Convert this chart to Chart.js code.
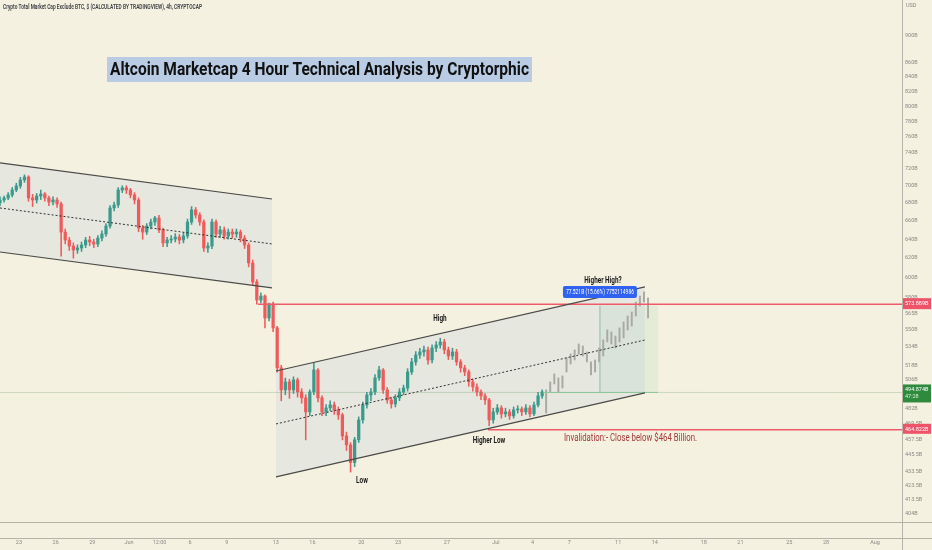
<!DOCTYPE html>
<html>
<head>
<meta charset="utf-8">
<script src="https://cdn.jsdelivr.net/npm/chart.js@4.4.1/dist/chart.umd.min.js"></script>
<style>
  html, body { margin: 0; padding: 0; background: #f5f1e0; }
  canvas { display: block; }
</style>
</head>
<body>
<canvas id="ctx" width="932" height="550"></canvas>
<script>
// day numbers: May d -> d, Jun d -> 31 + d, Jul d -> 61 + d, Aug 1 -> 93
const xTicks = [23, 26, 29, 32, 34.5, 37, 40, 44, 47, 51, 54, 58, 62, 65, 68, 72, 75, 79, 82, 86, 89, 93];
const xTickLabels = ["23", "26", "29", "Jun", "12:00", "6", "9", "13", "16", "20", "23", "27", "Jul", "4", "7", "11", "14", "18", "21", "25", "28", "Aug"];

const yTicks = [900, 860, 840, 820, 800, 780, 760, 740, 720, 700, 680, 660, 640, 620, 600, 580, 565, 550, 534, 518, 506, 482, 469.5, 457.5, 445.5, 433.5, 423.5, 413.5, 404];
const yTickLabels = ["900B", "860B", "840B", "820B", "800B", "780B", "760B", "740B", "720B", "700B", "680B", "660B", "640B", "620B", "600B", "580B", "565B", "550B", "534B", "518B", "506B", "482B", "469.5B", "457.5B", "445.5B", "433.5B", "423.5B", "413.5B", "404B"];

// 8h candles (billions USD), open = previous close
const candleStart = 21.45;
const candleStep = 1 / 3;
const firstOpen = 680.0;
const closes = [
  683.5, 685.8, 689.3, 695.1, 699.8, 706.8, 710.4, 685.8, 683.5, 688.1,
  690.4, 685.8, 681.2, 683.5, 679.0, 647.7, 639.1, 632.7, 628.5, 630.6,
  633.8, 639.1, 637.0, 634.8, 641.2, 645.6, 654.3, 674.4, 677.8, 695.1,
  697.5, 695.1, 689.3, 683.5, 652.1, 647.7, 654.3, 658.7, 663.2, 650.0, 635.9,
  639.1, 640.2, 642.3, 639.1, 643.4, 658.7, 672.2, 666.5, 658.7, 630.6,
  632.7, 658.7, 645.6, 650.0, 643.4, 647.7, 645.6, 647.7, 641.2, 633.8,
  615.0, 595.7, 577.9, 581.8, 560.7, 574.1, 551.5, 515.7, 497.0, 503.7,
  497.0, 505.4, 495.3, 490.4, 479.0, 495.3, 513.9, 490.4, 479.0, 482.2,
  484.6, 480.6, 476.6, 460.1, 453.2, 440.0, 457.1, 472.6, 484.6, 492.8,
  495.3, 507.1, 513.9, 497.0, 488.7, 485.4, 490.4, 495.3, 498.6, 512.2,
  520.9, 527.0, 529.7, 531.5, 522.6, 533.2, 535.9, 538.6, 531.5, 526.1,
  529.7, 520.9, 515.7, 512.2, 503.7, 499.5, 495.3, 492.0, 488.7, 472.6,
  479.0, 482.2, 477.4, 479.0, 475.8, 480.6, 481.4, 479.0, 482.2, 477.4, 484.6, 492.0, 495.3
];
const highs = [
  687, 688, 692, 698, 703, 710, 713, 712, 690, 691,
  695, 692, 688, 687, 686, 681, 651, 642, 636, 634,
  637, 642, 643, 640, 644, 649, 657, 677, 681, 698,
  700, 700, 697, 692, 686, 655, 657, 662, 665, 666, 652,
  642, 644, 646, 645, 647, 662, 676, 675, 669, 661,
  636, 662, 661, 654, 653, 651, 651, 651, 650, 644,
  636, 618, 598, 585, 583, 574.9, 576, 553, 518, 507,
  506, 508, 507, 498, 493, 497, 520, 515, 492, 485,
  488, 487, 483, 478, 463, 455, 459, 475, 487, 495,
  498, 510, 517, 515, 499, 491, 493, 498, 501, 515,
  524, 530, 533, 535, 534, 536, 539, 542, 541, 534,
  533, 532, 523, 518, 514, 506, 502, 497, 494, 490,
  482, 485, 484, 482, 481, 483, 484, 483, 485, 484, 487, 495, 497
];
const lows = [
  677, 681, 684, 687, 693, 697, 704, 682, 676, 680,
  684, 682, 677, 678, 675, 622, 635, 628, 620, 625,
  627, 631, 633, 631, 632, 638, 643, 652, 671, 675,
  692, 691, 686, 679, 648, 640, 645, 651, 655, 647, 632,
  632, 636, 637, 635, 636, 641, 656, 663, 655, 627,
  626, 630, 642, 642, 640, 640, 641, 642, 637, 630,
  611, 592, 574, 575, 551.5, 558, 548, 512, 488, 493,
  490, 494, 491, 486, 457, 476, 493, 487, 476, 476,
  480, 477, 473, 457, 449, 433, 437, 455, 470, 482,
  488, 493, 505, 494, 486, 482, 483, 488, 493, 496,
  510, 518, 524, 526, 519, 520, 530, 533, 528, 523,
  523, 518, 512, 509, 500, 496, 492, 489, 485, 468,
  470, 477, 474, 475, 473, 474, 478, 476, 477, 475, 476, 483, 490
];

// projected path (grey bars) after the last real candle
const projStart = 66.11;
const projHigh = [497.0, 503.7, 510.5, 507.1, 508.8, 524.4, 527.9, 531.5, 536.8, 535.0, 529.7, 520.9, 522.6, 533.2, 540.5, 549.6, 547.7, 544.1, 551.5, 557.0, 562.6, 566.4, 575.9, 581.8, 585.8, 579.9];
const projLow = [478.2, 495.3, 502.0, 495.3, 498.6, 512.2, 519.1, 522.6, 527.9, 526.1, 520.9, 509.7, 512.2, 520.9, 526.1, 538.6, 536.8, 533.2, 538.6, 542.3, 549.6, 553.3, 562.6, 572.2, 576.0, 560.7];

// channels
const downDays = [21.45, 43.69];
const downTop = [727.3, 684.6];
const downMid = [674.4, 634.9];
const downBot = [626.4, 589.7];
const upDays = [44.02, 74.19];
const upTop = [513.0, 590.7];
const upMid = [469.4, 540.4];
const upBot = [429.5, 494.5];

// levels
const resistance = 573.889;
const resistanceFrom = 42.55;
const invalidation = 464.822;
const invalidationFrom = 61.35;
const lastPrice = 494.874;
const measureTop = 572.395;
const measureDays = [65.85, 70.51, 75.25];

const notes = [
  { text: "High", day: 57.43, value: 559.8 },
  { text: "Low", day: 51.05, value: 426.6 },
  { text: "Higher Low", day: 61.44, value: 456.2 },
  { text: "Higher High?", day: 70.76, value: 596.6 }
];

const UP = "#3b9a8c";
const DOWN = "#ef5a5a";
const BG = "#f5f1e0";

const opens = closes.map((c, i) => (i === 0 ? firstOpen : closes[i - 1]));
const dayOf = (i) => candleStart + i * candleStep;
const seg = (xs, ys) => xs.map((x, i) => ({ x: x, y: ys[i] }));

function line(data, color, width, extra) {
  return Object.assign({
    type: "line", data: data, borderColor: color, borderWidth: width,
    pointRadius: 0, fill: false, tension: 0, order: 1
  }, extra || {});
}

function squeeze(ctx, text, x, y, font, color, opt) {
  ctx.save();
  ctx.font = font;
  ctx.fillStyle = color;
  ctx.textBaseline = "middle";
  ctx.textAlign = opt.align || "left";
  const w = ctx.measureText(text).width;
  const sx = opt.width ? opt.width / w : (opt.sx || 1);
  ctx.translate(x, y);
  ctx.scale(sx, 1);
  ctx.fillText(text, 0, 0);
  ctx.restore();
}

const background = {
  id: "background",
  beforeDraw(chart) {
    const c = chart.ctx;
    c.save();
    c.fillStyle = BG;
    c.fillRect(0, 0, chart.width, chart.height);
    c.restore();
  }
};

const overlay = {
  id: "overlay",
  afterDraw(chart) {
    const c = chart.ctx;
    const a = chart.chartArea;
    const x = chart.scales.x;
    const y = chart.scales.y;

    // pane borders
    c.save();
    c.strokeStyle = "#b4b3a9";
    c.lineWidth = 1;
    c.beginPath();
    c.moveTo(0, a.bottom + 0.5); c.lineTo(chart.width, a.bottom + 0.5);
    c.moveTo(0, a.bottom + 16.5); c.lineTo(chart.width, a.bottom + 16.5);
    c.moveTo(a.right + 0.5, 0); c.lineTo(a.right + 0.5, chart.height);
    c.stroke();
    c.restore();

    // header & currency
    squeeze(c, "Crypto Total Market Cap Exclude BTC, $ (CALCULATED BY TRADINGVIEW), 4h, CRYPTOCAP",
      3, 7, "600 7px Roboto", "#3a3d45", { width: 199 });
    squeeze(c, "USD", a.right + 4, 6, "5.5px Roboto", "#8a8a86", {});

    // title
    c.fillStyle = "#b9cce4";
    c.fillRect(107, 57, 425, 25);
    squeeze(c, "Altcoin Marketcap 4 Hour Technical Analysis by Cryptorphic",
      110, 70, "bold 18px Roboto", "#111111", { width: 419 });

    // notes
    notes.forEach((n) => {
      squeeze(c, n.text, x.getPixelForValue(n.day), y.getPixelForValue(n.value),
        "bold 8.5px Roboto", "#1a1a1a", { align: "center", sx: 0.75 });
    });

    // measure label
    const mx = x.getPixelForValue(measureDays[1]);
    const my = y.getPixelForValue(585.7);
    c.fillStyle = "#2f62f0";
    c.beginPath();
    c.roundRect(mx - 37, my - 6, 74, 12, 2);
    c.fill();
    squeeze(c, "77.521B (15.66%) 7752114986", mx, my, "6.5px Roboto", "#ffffff", { align: "center", width: 68 });

    squeeze(c, "Invalidation:- Close below $464 Billion.",
      x.getPixelForValue(67.57), y.getPixelForValue(457.7), "10px Roboto", "#a23a3a", { width: 133 });

    // price tags on the axis
    const tag = (value, text, sub, color, up, h) => {
      const py = y.getPixelForValue(value);
      c.fillStyle = color;
      c.fillRect(a.right + 1, py - up, 28, h);
      squeeze(c, text, a.right + 3, py - up + 5.5, "5.5px Roboto", "#ffffff", {});
      if (sub) squeeze(c, sub, a.right + 3, py - up + 12.5, "5.5px Roboto", "#d8f0d8", {});
    };
    tag(resistance, "573.889B", null, "#ef5368", 6, 11);
    tag(lastPrice, "494.874B", "47:28", "#2f8a3e", 8, 18);
    tag(invalidation, "464.822B", null, "#ef5368", 6, 10);
  }
};

const datasets = [
  // channel fills (drawn below candles)
  line(seg(downDays, downTop), "#4a4a48", 1.2, { fill: "+1", backgroundColor: "rgba(200,210,220,0.32)", order: 1 }),
  line(seg(downDays, downBot), "#4a4a48", 1.2),
  line(seg(downDays, downMid), "#333333", 1, { borderDash: [2, 2] }),
  line(seg(upDays, upTop), "#4a4a48", 1.2, { fill: "+1", backgroundColor: "rgba(200,210,220,0.32)" }),
  line(seg(upDays, upBot), "#4a4a48", 1.2),
  line(seg(upDays, upMid), "#333333", 1, { borderDash: [2, 2] }),
  // measurement box
  line(seg([measureDays[1], measureDays[2]], [measureTop, measureTop]), "rgba(0,0,0,0)", 0,
    { fill: "+1", backgroundColor: "rgba(170,215,180,0.22)" }),
  line(seg([measureDays[1], measureDays[2]], [lastPrice, lastPrice]), "rgba(0,0,0,0)", 0),
  line(seg([measureDays[1], measureDays[1]], [lastPrice, measureTop]), "#9bb8a0", 1),
  line(seg([measureDays[0], measureDays[2]], [lastPrice, lastPrice]), "#8cc79a", 1),
  // levels
  line(seg([candleStart, 95.21], [lastPrice, lastPrice]), "rgba(90,150,100,0.35)", 0.8),
  line(seg([resistanceFrom, 95.21], [resistance, resistance]), "#ef5a6a", 1.5),
  line(seg([invalidationFrom, 95.21], [invalidation, invalidation]), "#ef5a6a", 1.5),
  // candles
  {
    type: "bar", grouped: false, order: 5, barThickness: 0.9,
    data: closes.map((c, i) => ({ x: dayOf(i), y: [lows[i], highs[i]] })),
    backgroundColor: closes.map((c, i) => (c >= opens[i] ? UP : DOWN))
  },
  {
    type: "bar", grouped: false, order: 4, barThickness: 2.6,
    data: closes.map((c, i) => ({ x: dayOf(i), y: [opens[i], c] })),
    backgroundColor: closes.map((c, i) => (c >= opens[i] ? UP : DOWN))
  },
  {
    type: "bar", grouped: false, order: 4, barThickness: 1.3,
    data: projHigh.map((h, i) => ({ x: projStart + i * candleStep, y: [projLow[i], h] })),
    backgroundColor: "#a9a9a2"
  }
];

new Chart(document.getElementById("ctx"), {
  type: "bar",
  data: { datasets: datasets },
  options: {
    responsive: false,
    animation: false,
    layout: { padding: 0 },
    plugins: {
      legend: { display: false },
      tooltip: { enabled: false },
      filler: { drawTime: "beforeDatasetsDraw" }
    },
    scales: {
      x: {
        type: "linear", min: candleStart, max: 95.21, offset: false,
        grid: { display: false, drawTicks: false, offset: false },
        border: { display: false },
        afterBuildTicks: (s) => { s.ticks = xTicks.map((v) => ({ value: v })); },
        afterFit: (s) => { s.height = 28; s.paddingLeft = 0; s.paddingRight = 0; },
        ticks: {
          autoSkip: false, maxRotation: 0, padding: 17,
          font: { family: "Roboto", size: 5.5 }, color: "#8a8a86",
          callback: (v, i) => xTickLabels[i]
        }
      },
      y: {
        type: "logarithmic", position: "right", min: 398.2, max: 956,
        grid: { display: false, drawTicks: false },
        border: { display: false },
        afterBuildTicks: (s) => { s.ticks = yTicks.map((v) => ({ value: v })); },
        afterFit: (s) => { s.width = 30; s.paddingTop = 0; s.paddingBottom = 0; },
        ticks: {
          autoSkip: false, padding: 3,
          font: { family: "Roboto", size: 5.5 }, color: "#8a8a86",
          callback: (v, i) => yTickLabels[i]
        }
      }
    }
  },
  plugins: [background, overlay]
});
</script>
</body>
</html>
